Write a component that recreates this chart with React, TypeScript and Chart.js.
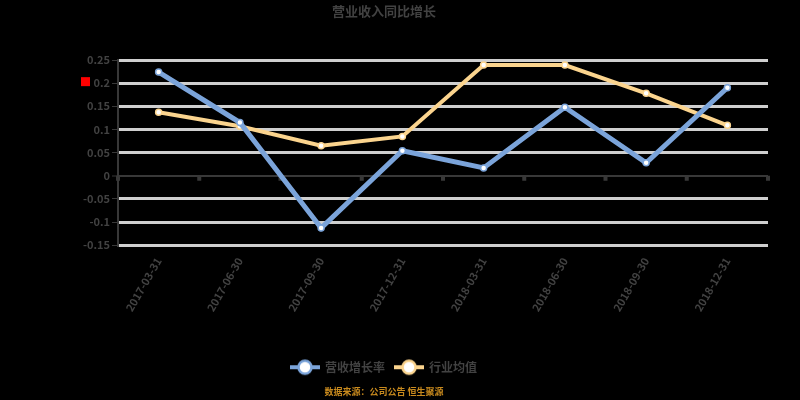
import { useEffect, useRef } from "react";
import { Chart, registerables } from "chart.js";

Chart.register(...registerables);

const chartTitle = "营业收入同比增长";
const sourceText = "数据来源：公司公告 恒生聚源";
const categories = [
  "2017-03-31",
  "2017-06-30",
  "2017-09-30",
  "2017-12-31",
  "2018-03-31",
  "2018-06-30",
  "2018-09-30",
  "2018-12-31",
];
const seriesNames = ["营收增长率", "行业均值"];
const companyValues = [0.224, 0.115, -0.113, 0.054, 0.017, 0.148, 0.028, 0.19];
const industryValues = [0.137, 0.107, 0.065, 0.085, 0.239, 0.239, 0.178, 0.109];
const yTickValues = [-0.15, -0.1, -0.05, 0, 0.05, 0.1, 0.15, 0.2, 0.25];

const BLUE = "#7ba4da";
const ORANGE = "#fbd48e";
const TEXT = "#424242";
const FONT = "'Noto Sans CJK SC', 'DejaVu Sans', sans-serif";

function makeMarker(color: string) {
  const c = document.createElement("canvas");
  c.width = 30;
  c.height = 18;
  const ctx = c.getContext("2d")!;
  ctx.strokeStyle = color;
  ctx.lineWidth = 4;
  ctx.beginPath();
  ctx.moveTo(0, 9);
  ctx.lineTo(30, 9);
  ctx.stroke();
  ctx.beginPath();
  ctx.arc(15, 9, 6.5, 0, Math.PI * 2);
  ctx.fillStyle = "#ffffff";
  ctx.fill();
  ctx.lineWidth = 2.5;
  ctx.strokeStyle = color;
  ctx.stroke();
  return c;
}

const decorPlugin = {
  id: "decor",
  beforeDatasetsDraw(chart: any) {
    const { ctx, scales } = chart;
    const x = scales.x;
    const y = scales.y;
    const y0 = y.getPixelForValue(0);
    ctx.save();
    ctx.strokeStyle = "#383838";
    ctx.lineWidth = 4;
    for (let i = 0; i <= categories.length; i++) {
      const px = x.getPixelForValue(i - 0.5);
      ctx.beginPath();
      ctx.moveTo(px, y0);
      ctx.lineTo(px, y0 + 5);
      ctx.stroke();
    }
    // small red flag near the 0.2 label
    const yr = y.getPixelForValue(0.2);
    ctx.fillStyle = "#ff0000";
    ctx.fillRect(81, yr - 6, 9, 9);
    ctx.restore();
  },
};

export default function App() {
  const ref = useRef<HTMLCanvasElement | null>(null);

  useEffect(() => {
    document.body.style.margin = "0";
    document.body.style.background = "#000";
    const markers = [makeMarker(BLUE), makeMarker(ORANGE)];
    const chart = new Chart(ref.current!, {
      type: "line",
      data: {
        labels: categories,
        datasets: [
          {
            label: seriesNames[0],
            data: companyValues,
            borderColor: BLUE,
            backgroundColor: "#ffffff",
            borderWidth: 5,
            pointRadius: 3,
            pointBorderWidth: 1.5,
            pointBackgroundColor: "#ffffff",
            pointBorderColor: BLUE,
            tension: 0,
            order: 1,
          },
          {
            label: seriesNames[1],
            data: industryValues,
            borderColor: ORANGE,
            backgroundColor: "#ffffff",
            borderWidth: 4,
            pointRadius: 3,
            pointBorderWidth: 1.5,
            pointBackgroundColor: "#ffffff",
            pointBorderColor: ORANGE,
            tension: 0,
            order: 2,
          },
        ],
      },
      options: {
        responsive: true,
        maintainAspectRatio: false,
        animation: false,
        layout: { padding: { left: 0, right: 32, top: 0, bottom: 0 } },
        plugins: {
          title: {
            display: true,
            text: chartTitle,
            color: TEXT,
            font: { family: FONT, size: 13, weight: "bold" },
            padding: { top: 3, bottom: 41.4 },
          },
          subtitle: {
            display: true,
            position: "bottom",
            text: sourceText,
            color: "#c88a1e",
            font: { family: FONT, size: 9, weight: "bold" },
            padding: { top: 3, bottom: 3 },
          },
          legend: {
            position: "bottom",
            labels: {
              usePointStyle: true,
              pointStyleWidth: 28,
              padding: 10,
              color: TEXT,
              font: { family: FONT, size: 12, weight: "bold" },
              generateLabels: (c: any) =>
                c.data.datasets.map((ds: any, i: number) => ({
                  text: ds.label,
                  pointStyle: markers[i],
                  fillStyle: "#ffffff",
                  strokeStyle: ds.borderColor,
                  lineWidth: 0,
                  hidden: false,
                  datasetIndex: i,
                  fontColor: TEXT,
                })),
            },
          },
          tooltip: { enabled: false },
        },
        scales: {
          x: {
            offset: true,
            afterFit: (s: any) => {
              s.height = 106;
            },
            grid: { display: false },
            border: { display: false },
            ticks: {
              autoSkip: false,
              minRotation: 60,
              maxRotation: 60,
              padding: 2,
              color: TEXT,
              font: { family: FONT, size: 11, weight: "bold" },
            },
          },
          y: {
            min: -0.15,
            max: 0.25,
            afterFit: (s: any) => {
              s.width = 118;
            },
            afterBuildTicks: (s: any) => {
              s.ticks = yTickValues.map((v) => ({ value: v }));
            },
            border: { display: true, color: "#383838", width: 2 },
            grid: {
              color: (ctx: any) =>
                ctx.tick && Math.abs(ctx.tick.value) < 1e-9 ? "#383838" : "#cfcfcf",
              lineWidth: (ctx: any) =>
                ctx.tick && Math.abs(ctx.tick.value) < 1e-9 ? 2 : 3,
              tickColor: "#383838",
              tickLength: 6,
              tickWidth: 1,
            },
            ticks: {
              padding: 2,
              color: TEXT,
              font: { family: FONT, size: 11, weight: "bold" },
              callback: (v: any) => String(parseFloat(Number(v).toFixed(2))),
            },
          },
        },
      },
      plugins: [decorPlugin],
    } as any);
    return () => chart.destroy();
  }, []);

  return (
    <div style={{ position: "fixed", left: 0, top: 0, width: 800, height: 400, background: "#000" }}>
      <canvas ref={ref} />
    </div>
  );
}
